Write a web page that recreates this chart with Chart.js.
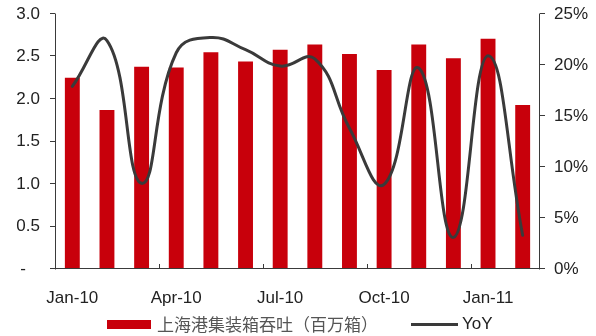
<!DOCTYPE html>
<html>
<head>
<meta charset="utf-8">
<script src="https://cdn.jsdelivr.net/npm/chart.js@4/dist/chart.umd.min.js"></script>
<style>
  html, body { margin: 0; padding: 0; background: #fff; }
  #wrap { position: relative; width: 596px; height: 336px; }
  #legend { position: absolute; left: 0; top: 0; width: 596px; height: 336px; pointer-events: none; }
  .lg-box { position: absolute; left: 107px; top: 320px; width: 44px; height: 9px; background: #C8000B; }
  .lg-text1 { position: absolute; left: 157px; top: 313px; font: 17px "Noto Sans CJK SC", sans-serif; color: #555; line-height: 22px; white-space: nowrap; }
  .lg-line { position: absolute; left: 411px; top: 323px; width: 47px; height: 3px; background: #3a3a3a; }
  .lg-text2 { position: absolute; left: 462px; top: 313px; font: 17px "Liberation Sans", Arial, sans-serif; color: #222; line-height: 22px; white-space: nowrap; }
</style>
</head>
<body>
<div id="wrap">
  <canvas id="c" width="596" height="336"></canvas>
  <div id="legend">
    <div class="lg-box"></div>
    <div class="lg-text1">上海港集装箱吞吐（百万箱）</div>
    <div class="lg-line"></div>
    <div class="lg-text2">YoY</div>
  </div>
</div>
<script>
// Months on the category axis
const months = ['Jan-10','Feb-10','Mar-10','Apr-10','May-10','Jun-10','Jul-10',
                'Aug-10','Sep-10','Oct-10','Nov-10','Dec-10','Jan-11','Feb-11'];
// Shanghai port container throughput, million TEU
const throughput = [2.25, 1.87, 2.38, 2.37, 2.55, 2.44, 2.58,
                    2.64, 2.53, 2.34, 2.64, 2.48, 2.71, 1.93];
// Year-over-year growth, percent
const yoy = [17.9, 22.4, 8.4, 21.2, 22.7, 21.5, 19.9,
             20.6, 13.8, 8.3, 19.7, 3.1, 20.9, 3.3];
// Tick values shown on the two value axes
const leftTicks = [0, 0.5, 1.0, 1.5, 2.0, 2.5, 3.0];
const rightTicks = [0, 5, 10, 15, 20, 25];

const axisColor = '#3a3a3a';
const tickFont = { family: '"Liberation Sans", Arial, sans-serif', size: 17 };

// Draws the axis lines and the short tick marks
const axisFrame = {
  id: 'axisFrame',
  afterDatasetsDraw(chart) {
    const { ctx, chartArea: a, scales } = chart;
    ctx.save();
    ctx.strokeStyle = axisColor;
    ctx.lineWidth = 1;
    ctx.beginPath();
    // left, right, bottom axis lines
    ctx.moveTo(a.left + 0.5, a.top); ctx.lineTo(a.left + 0.5, a.bottom + 0.5);
    ctx.moveTo(a.right - 0.5, a.top); ctx.lineTo(a.right - 0.5, a.bottom + 0.5);
    ctx.moveTo(a.left, a.bottom - 0.5); ctx.lineTo(a.right, a.bottom - 0.5);
    leftTicks.forEach(v => {
      const y = Math.round(scales.y.getPixelForValue(v)) - 0.5;
      ctx.moveTo(a.left - 5, y); ctx.lineTo(a.left + 0.5, y);
    });
    rightTicks.forEach(v => {
      const y = Math.round(scales.y1.getPixelForValue(v)) - 0.5;
      ctx.moveTo(a.right - 0.5, y); ctx.lineTo(a.right + 5, y);
    });
    // x tick marks at every third category boundary, pointing up
    const step = (a.right - a.left) / months.length;
    for (let i = 0; i <= months.length; i += 3) {
      const x = Math.round(a.left + step * i) + 0.5;
      ctx.moveTo(x, a.bottom); ctx.lineTo(x, a.bottom - 5);
    }
    ctx.stroke();
    ctx.restore();
  }
};

// Fixed axis sizes, without extra room for overhanging labels
const fitY = w => s => { s.width = w; s.paddingTop = 0; s.paddingBottom = 0; };

new Chart(document.getElementById('c'), {
  data: {
    labels: months,
    datasets: [
      {
        type: 'line',
        label: 'YoY',
        data: yoy,
        yAxisID: 'y1',
        borderColor: '#3a3a3a',
        borderWidth: 3,
        pointRadius: 0,
        tension: 0.45,
        borderCapStyle: 'round',
        borderJoinStyle: 'round',
        order: 0
      },
      {
        type: 'bar',
        label: '上海港集装箱吞吐（百万箱）',
        data: throughput,
        yAxisID: 'y',
        backgroundColor: '#C8000B',
        categoryPercentage: 1.0,
        barPercentage: 0.43,
        order: 1
      }
    ]
  },
  options: {
    responsive: false,
    animation: false,
    layout: { padding: { top: 14, left: 0, right: 0, bottom: 0 } },
    plugins: { legend: { display: false }, tooltip: { enabled: false } },
    scales: {
      x: {
        type: 'category',
        offset: true,
        grid: { display: false, drawTicks: false },
        border: { display: false },
        ticks: {
          autoSkip: false, maxRotation: 0, padding: 19,
          color: '#222', font: tickFont,
          callback: (v, i) => (i % 3 === 0 ? months[i] : '')
        },
        afterFit: s => { s.height = 67; s.paddingLeft = 0; s.paddingRight = 0; }
      },
      y: {
        position: 'left',
        min: 0, max: 3,
        grid: { display: false, drawTicks: false },
        border: { display: false },
        ticks: {
          stepSize: 0.5, padding: 15, color: '#222', font: tickFont,
          callback: v => (v === 0 ? '-   ' : v.toFixed(1))
        },
        afterFit: fitY(55)
      },
      y1: {
        position: 'right',
        min: 0, max: 25,
        grid: { display: false, drawTicks: false },
        border: { display: false },
        ticks: {
          stepSize: 5, padding: 14, color: '#222', font: tickFont,
          callback: v => v + '%'
        },
        afterFit: fitY(56)
      }
    }
  },
  plugins: [axisFrame]
});
</script>
</body>
</html>
